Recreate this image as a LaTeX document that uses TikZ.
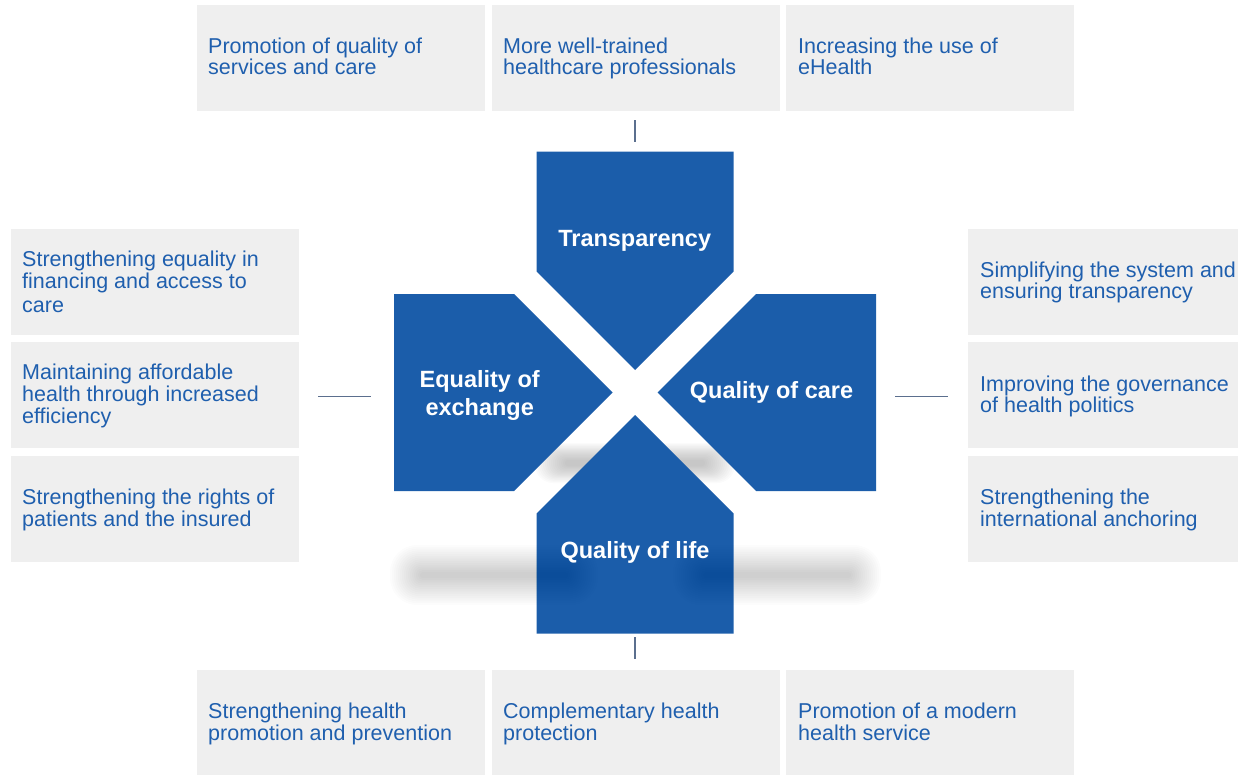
\documentclass[tikz,border=0pt]{standalone}
\usepackage{fontspec}
\setmainfont{Liberation Sans}
\usetikzlibrary{calc}
\definecolor{shapeblue}{HTML}{1B5DAA}
\definecolor{txtblue}{HTML}{1F5FAE}
\definecolor{boxgray}{HTML}{EFEFEF}
\definecolor{linecol}{HTML}{5B6F8E}
% soft blurred bar: centre x, centre y, half width, half height, opacity per layer
\newcommand\softbar[5]{%
  \foreach \i in {0,...,15}{%
    \pgfmathsetmacro\hwi{#3-\i*2.0}%
    \pgfmathsetmacro\hhi{#4-\i*(#4-3)/15}%
    \pgfmathsetmacro\rci{0.9*\hhi}%
    \fill[black,opacity=#5,rounded corners=\rci pt]
      ({#1-\hwi},{#2-\hhi}) rectangle ({#1+\hwi},{#2+\hhi});}}
\begin{document}
\begin{tikzpicture}[x=1pt,y=-1pt,
  box/.style={fill=boxgray, draw=none, inner sep=0pt, anchor=north west,
              minimum width=288pt, minimum height=105.5pt},
  sidebox/.style={box, minimum width=288pt, minimum height=105.7pt},
  btext/.style={anchor=north west, inner sep=0pt, align=left, text=txtblue,
                font=\fontsize{21.5}{21.5}\selectfont},
  ctext/.style={inner sep=0pt, text=white, align=center,
                font=\fontsize{23.5}{28}\selectfont\bfseries},
  conn/.style={draw=linecol, line width=1.5pt}]
\useasboundingbox (0,0) rectangle (1238,774);

% ---- top boxes
\node[box] (t1) at (197,5) {};
\node[box] (t2) at (492,5) {};
\node[box] (t3) at (786,5) {};
\node[btext] (tt1) at (208,37.5) {Promotion of quality of\\services and care};
\node[btext] (tt2) at (503,37.5) {More well-trained\\healthcare professionals};
\node[btext] (tt3) at (798,37.5) {Increasing the use of\\eHealth};

% ---- left boxes
\node[sidebox] (l1) at (11,229) {};
\node[sidebox] (l2) at (11,342) {};
\node[sidebox] (l3) at (11,456) {};
\node[btext] (lt1) at (22,251) {Strengthening equality in\\financing and access to\\[2.5pt]care};
\node[btext, font=\fontsize{21.5}{22.3}\selectfont] (lt2) at (22,363.5) {Maintaining affordable\\health through increased\\efficiency};
\node[btext] (lt3) at (22,488.8) {Strengthening the rights of\\patients and the insured};

% ---- right boxes
\node[sidebox, minimum width=272pt] (r1) at (968,229) {};
\node[sidebox, minimum width=272pt] (r2) at (968,342) {};
\node[sidebox, minimum width=272pt] (r3) at (968,456) {};
\node[btext] (rt1) at (980,261.5) {Simplifying the system and\\ensuring transparency};
\node[btext] (rt2) at (980,375.5) {Improving the governance\\of health politics};
\node[btext] (rt3) at (980,489) {Strengthening the\\international anchoring};

% ---- bottom boxes
\node[box, minimum height=105pt] (b1) at (197,670) {};
\node[box, minimum height=105pt] (b2) at (492,670) {};
\node[box, minimum height=105pt] (b3) at (786,670) {};
\node[btext] (bt1) at (208,703) {Strengthening health\\promotion and prevention};
\node[btext] (bt2) at (503,703) {Complementary health\\protection};
\node[btext] (bt3) at (798,703) {Promotion of a modern\\health service};

% ---- shadows under the cross
\softbar{635}{463}{100}{20}{0.016}
\softbar{494}{575}{104}{30}{0.008}
\softbar{777}{575}{104}{30}{0.008}

% ---- four blue shapes
\foreach \a in {0,90,180,270}{
  \fill[shapeblue, rotate around={\a:(635,392.5)}]
    (635,370) -- ++(-98.5,-98.5) -- ++(0,-120) -- ++(197,0) -- ++(0,120) -- cycle;
}

% ---- shadows over the lower shape (soft)
\softbar{494}{575}{104}{30}{0.0045}
\softbar{777}{575}{104}{30}{0.0045}

% ---- labels
\node[ctext, anchor=base] (cT) at (634.7,246) {Transparency};
\node[ctext, anchor=base] (cC) at (771.5,398.3) {Quality of care};
\node[ctext, anchor=base] (cL) at (635,558.3) {Quality of life};
\node[ctext, anchor=north] (cE) at (479.7,370.7) {Equality of\\exchange};

% ---- connectors
\coordinate (tA) at (635,120);  \coordinate (tB) at (635,142);
\coordinate (bA) at (635,637);  \coordinate (bB) at (635,659);
\coordinate (lA) at (318,396.5); \coordinate (lB) at (371,396.5);
\coordinate (rA) at (895,396.5); \coordinate (rB) at (948,396.5);
\draw[conn] (tA) -- (tB);
\draw[conn] (bA) -- (bB);
\draw[conn] (lA) -- (lB);
\draw[conn] (rA) -- (rB);
\end{tikzpicture}
\end{document}
